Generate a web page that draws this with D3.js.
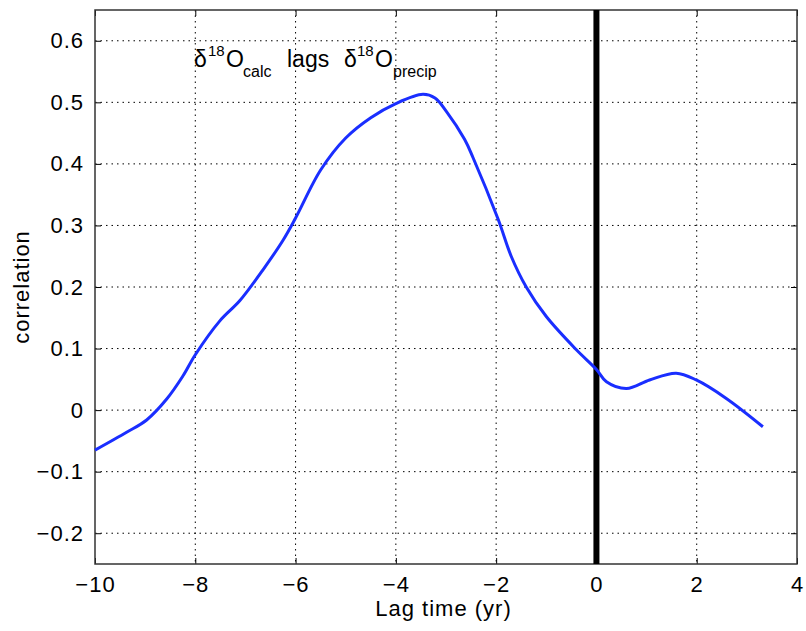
<!DOCTYPE html>
<html>
<head>
<meta charset="utf-8">
<script src="https://cdn.jsdelivr.net/npm/d3@7"></script>
<style>
  body { margin: 0; background: #fff; }
  text { font-family: "Liberation Sans", Arial, sans-serif; fill: #000; }
</style>
</head>
<body>
<div id="chart"></div>
<script>
// lag (yr) vs correlation
var lagTime = [-10, -9.37, -8.97, -8.57, -8.25, -8, -7.51, -7.11, -6.65, -6.25, -6, -5.5, -5, -4.5, -4, -3.46, -3.22, -2.99, -2.63, -2.46, -1.96, -1.7, -1.4, -1, -0.4, 0, 0.2, 0.6, 1.06, 1.59, 1.99, 2.59, 3.32];
var correlation = [-0.065, -0.036, -0.016, 0.018, 0.055, 0.09, 0.145, 0.178, 0.228, 0.276, 0.312, 0.39, 0.442, 0.475, 0.498, 0.513, 0.507, 0.485, 0.44, 0.41, 0.31, 0.25, 0.2, 0.152, 0.098, 0.066, 0.046, 0.035, 0.049, 0.06, 0.049, 0.019, -0.027];
var xTicks = [-10, -8, -6, -4, -2, 0, 2, 4];
var yTicks = [-0.2, -0.1, 0, 0.1, 0.2, 0.3, 0.4, 0.5, 0.6];

var W = 806, H = 631;
var margin = {top: 10, right: 9, bottom: 67, left: 95};
var w = W - margin.left - margin.right,
    h = H - margin.top - margin.bottom;

var svg = d3.select("#chart").append("svg")
  .attr("width", W)
  .attr("height", H);
var g = svg.append("g").attr("transform", "translate(" + margin.left + "," + margin.top + ")");

var x = d3.scaleLinear().domain([-10, 4]).range([0, w]);
var y = d3.scaleLinear().domain([-0.25, 0.65]).range([h, 0]);

var fmt = function(d) { return (d < 0 ? "\u2212" : "") + d3.format("")(Math.abs(d)); };

// dotted grid
g.selectAll(".vgrid").data(xTicks.slice(1, -1)).enter().append("line")
  .attr("x1", function(d) { return x(d); }).attr("x2", function(d) { return x(d); })
  .attr("y1", 0).attr("y2", h)
  .attr("stroke", "#000").attr("stroke-width", 1).attr("stroke-dasharray", "1.5,4");
g.selectAll(".hgrid").data(yTicks).enter().append("line")
  .attr("y1", function(d) { return y(d); }).attr("y2", function(d) { return y(d); })
  .attr("x1", 0).attr("x2", w)
  .attr("stroke", "#000").attr("stroke-width", 1).attr("stroke-dasharray", "1.5,4");

// axes, ticks pointing inward
var fs = "22px";
var xAxis = g.append("g").attr("transform", "translate(0," + h + ")")
  .call(d3.axisBottom(x).tickValues(xTicks).tickSize(-6).tickPadding(12).tickFormat(fmt));
var xTop = g.append("g")
  .call(d3.axisTop(x).tickValues(xTicks).tickSize(-6).tickFormat(""));
var yAxis = g.append("g")
  .call(d3.axisLeft(y).tickValues(yTicks).tickSize(-6).tickPadding(11).tickFormat(fmt));
var yRight = g.append("g").attr("transform", "translate(" + w + ",0)")
  .call(d3.axisRight(y).tickValues(yTicks).tickSize(-6).tickFormat(""));
[xAxis, xTop, yAxis, yRight].forEach(function(a) {
  a.select(".domain").remove();
  a.selectAll("line").attr("stroke", "#000").attr("stroke-width", 1);
  a.selectAll("text").style("font-size", fs).style("letter-spacing", "1px")
    .attr("font-family", "Liberation Sans, Arial, sans-serif");
});

g.append("rect").attr("width", w).attr("height", h)
  .attr("fill", "none").attr("stroke", "#333").attr("stroke-width", 1.5);

// vertical zero line
g.append("line")
  .attr("x1", x(0)).attr("x2", x(0)).attr("y1", 0).attr("y2", h)
  .attr("stroke", "#000").attr("stroke-width", 6);

// curve
var data = lagTime.map(function(d, i) { return [d, correlation[i]]; });
g.append("path").datum(data)
  .attr("d", d3.line().x(function(d) { return x(d[0]); }).y(function(d) { return y(d[1]); }).curve(d3.curveCatmullRom))
  .attr("fill", "none").attr("stroke", "#1a2eff").attr("stroke-width", 3);

// annotation: δ18Ocalc lags δ18Oprecip
function put(px, py, size, str) {
  return svg.append("text").attr("x", px).attr("y", py).style("font-size", size).text(str);
}
put(194, 67, "23px", "\u03b4");
put(208, 56, "15px", "18");
put(226, 67, "23px", "O");
put(243, 77, "16px", "calc");
put(287, 67, "23px", "lags");
put(344, 67, "23px", "\u03b4");
put(357, 56, "15px", "18");
put(375, 67, "23px", "O");
put(393, 77, "16px", "precip");

// axis labels
svg.append("text")
  .attr("x", margin.left + x(-3.05)).attr("y", 616)
  .attr("text-anchor", "middle").style("font-size", "22px").style("letter-spacing", "1px")
  .text("Lag time (yr)");
svg.append("text")
  .attr("transform", "translate(29," + (margin.top + y(0.2)) + ") rotate(-90)")
  .attr("text-anchor", "middle").style("font-size", "22px").style("letter-spacing", "1px")
  .text("correlation");
</script>
</body>
</html>
